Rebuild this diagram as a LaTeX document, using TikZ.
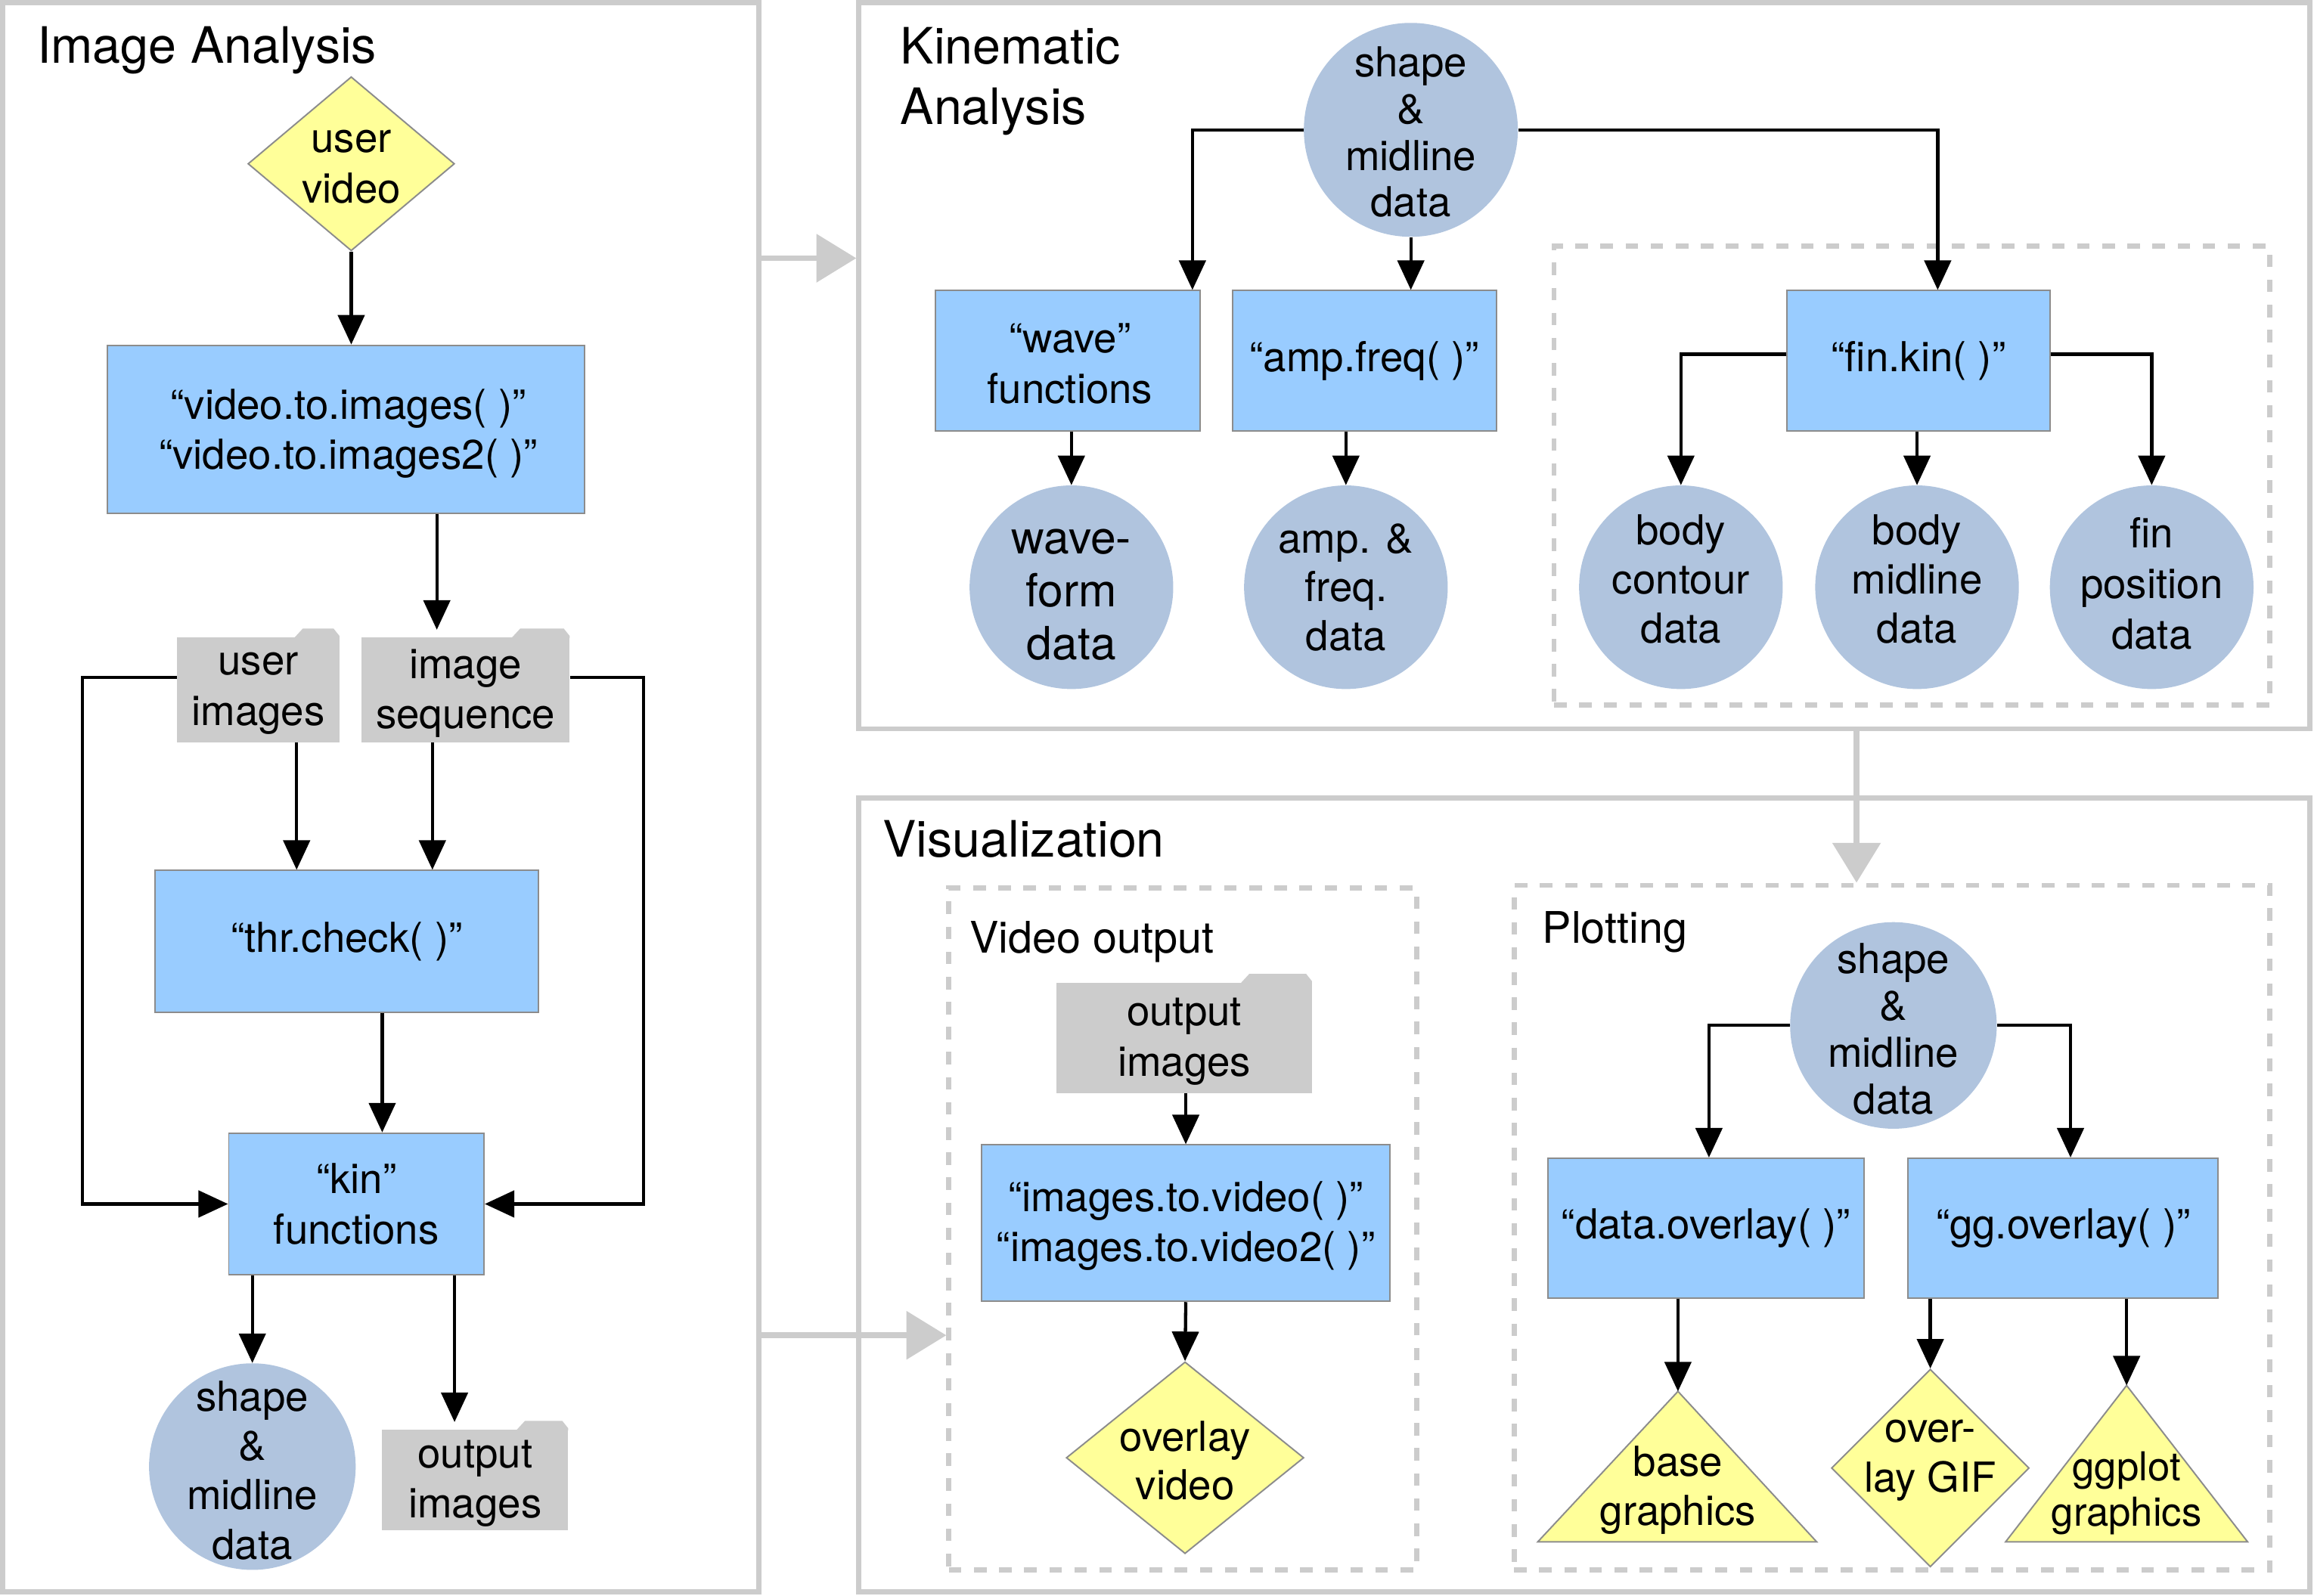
\documentclass[tikz,border=0pt]{standalone}
\usepackage{fontspec}
\setmainfont{TeX Gyre Heros}
\usetikzlibrary{arrows.meta,shapes.geometric,calc}
\definecolor{boxblue}{HTML}{99CCFF}
\definecolor{circblue}{HTML}{B0C4DE}
\definecolor{yelfill}{HTML}{FFFF99}
\definecolor{foldgray}{HTML}{CCCCCC}
\definecolor{panelgray}{HTML}{CCCCCC}
\definecolor{edgegray}{HTML}{8C8C8C}
\newcommand\fsz[2]{\fontsize{#1}{#2}\selectfont}
\newcommand\folderbox[6]{%
  \node[folderbody, minimum width={#4-#2}, minimum height={#5-#3}] (#1) at ({(#2+#4)/2},{(#3+#5)/2}) {};
  \fill[foldgray] ({#4-0.28*(#4-#2)},#3+0.5) -- ({#4-0.28*(#4-#2)+6},#3-6) -- (#4-4,#3-6) -- (#4,#3-1) -- (#4,#3+0.5) -- cycle;
  \node[lbl, yshift=-2.5pt] (#1t) at (#1) {#6};
}
\tikzset{
  every node/.style={font=\fsz{28}{34}},
  proc/.style={rectangle, fill=boxblue, draw=edgegray, line width=1pt, align=center, inner sep=0},
  datac/.style={circle, fill=circblue, inner sep=0},
  dia/.style={diamond, fill=yelfill, draw=edgegray, line width=1pt, inner sep=0},
  folderbody/.style={rectangle, fill=foldgray, inner sep=0, align=center},
  lbl/.style={align=center, inner sep=0},
  panelbox/.style={rectangle, draw=panelgray, line width=3.5pt, inner sep=0},
  dashbox/.style={rectangle, draw=panelgray, line width=3.5pt, dash pattern=on 8.5pt off 8.5pt, inner sep=0},
  arr/.style={draw=black, line width=2.2pt, -{Triangle[length=20pt,width=18pt]}},
  garr/.style={draw=panelgray, line width=4pt, -{Triangle[length=27pt,width=32pt]}},
  ttl/.style={font=\fsz{34}{41}, inner sep=0, align=left},
  subttl/.style={font=\fsz{29.5}{35}, anchor=base west, inner sep=0},
  tri/.style={fill=yelfill, draw=edgegray, line width=1pt},
}
\begin{document}
\begin{tikzpicture}[x=1pt,y=-1pt]
\useasboundingbox (0,0) rectangle (1568,1081.7);

% panels
\node[panelbox, minimum width=512, minimum height=1077] (ia) at (258,540.5) {};
\node[panelbox, minimum width=983, minimum height=492] (ka) at (1073.5,248) {};
\node[panelbox, minimum width=983, minimum height=538] (vz) at (1073.5,810) {};
\node[dashbox, minimum width=485, minimum height=311] (fk) at (1295.5,322.5) {};
\node[dashbox, minimum width=317, minimum height=462] (vo) at (801.5,833) {};
\node[dashbox, minimum width=512, minimum height=464] (pl) at (1282,832) {};

% titles
\node[ttl, anchor=base west] (t1) at (25,43) {Image Analysis};
\node[ttl, anchor=north west] (t2) at (610,18.5) {Kinematic\\Analysis};
\node[ttl, anchor=base west] (t3) at (598,581) {Visualization};
\node[subttl] (t4) at (657,646) {Video output};
\node[subttl] (t5) at (1045,639) {Plotting};

% gray arrows between panels
\draw[garr] (ia.east |- 0,175) -- (ka.west |- 0,175);
\draw[garr] (ia.east |- 0,905) -- (vo.west |- 0,905);
\draw[garr] (ka.south -| 1258,0) -- (pl.north -| 1258,0);

% ---------- Image Analysis ----------
\node[dia, minimum width=140, minimum height=118] (uv) at (238,111) {};
\node[lbl] (uvt) at (238,113) {user\\video};
\node[proc, minimum width=323, minimum height=114] (v2i) at (234.5,291) {};
\node[lbl] (v2it) at (236,294) {“video.to.images( )”\\“video.to.images2( )”};
\folderbox{ui}{120}{432}{230}{503}{user\\images}
\folderbox{is}{245}{432}{386}{503}{image\\sequence}
\node[proc, minimum width=260, minimum height=96] (thr) at (235,638) {“thr.check( )”};
\node[proc, minimum width=173, minimum height=96] (kin) at (241.5,816) {“kin”\\functions};
\node[datac, minimum size=140] (smd1) at (171,994) {};
\node[lbl, font=\fsz{28}{33.5}] (smd1t) at (171,996.5) {shape\\\&\\midline\\data};
\folderbox{oi1}{259}{969}{385}{1037}{output\\images}

\draw[arr] (uv.south) -- (uv.south |- v2i.north);
\draw[arr] (v2i.south -| 296,0) -- ($(is.north -| 296,0)+(0,-5)$);
\draw[arr] (ui.south -| 201,0) -- (thr.north -| 201,0);
\draw[arr] (is.south -| 293,0) -- (thr.north -| 293,0);
\draw[arr] (thr.south -| 259,0) -- (kin.north -| 259,0);
\draw[arr] (ui.west |- 0,459) -- ++(-64,0) |- (kin.west);
\draw[arr] (is.east |- 0,459) -- ++(50,0) |- (kin.east);
\draw[arr] (kin.south -| smd1.north) -- (smd1.north);
\draw[arr] (kin.south -| 308,0) -- ($(oi1.north -| 308,0)+(0,-5)$);

% ---------- Kinematic Analysis ----------
\node[datac, minimum size=145] (smd2) at (956,88) {};
\node[lbl, font=\fsz{28}{31.7}] (smd2t) at (956,89.5) {shape\\\&\\midline\\data};
\node[proc, minimum width=179, minimum height=95] (wave) at (723.5,244.5) {};
\node[lbl] (wavet) at (725,246.5) {“wave”\\functions};
\node[proc, minimum width=179, minimum height=95] (amp) at (924.5,244.5) {“amp.freq( )”};
\node[proc, minimum width=178, minimum height=95] (fin) at (1300,244.5) {“fin.kin( )”};
\node[datac, minimum size=138] (wd) at (726,398) {};
\node[lbl, font=\fsz{31}{36}] (wdt) at (726,403) {wave-\\form\\data};
\node[datac, minimum size=138] (afd) at (912,398) {};
\node[lbl, font=\fsz{28}{33}] (afdt) at (912,398) {amp. \&\\freq.\\data};
\node[datac, minimum size=138] (bcd) at (1139,398) {};
\node[lbl, font=\fsz{28}{33.5}] (bcdt) at (1139,392.5) {body\\contour\\data};
\node[datac, minimum size=138] (bmd) at (1299,398) {};
\node[lbl, font=\fsz{28}{33.5}] (bmdt) at (1299,392.5) {body\\midline\\data};
\node[datac, minimum size=138] (fpd) at (1458,398) {};
\node[lbl, font=\fsz{28}{34.5}] (fpdt) at (1458,395.5) {fin\\position\\data};

\draw[arr] (smd2.west) -| (wave.north -| 808,0);
\draw[arr] (smd2.south) -- (smd2.south |- amp.north);
\draw[arr] (smd2.east) -| (fin.north -| 1313,0);
\draw[arr] (wave.south -| wd.north) -- (wd.north);
\draw[arr] (amp.south -| afd.north) -- (afd.north);
\draw[arr] (fin.west |- 0,240) -| (bcd.north);
\draw[arr] (fin.south -| bmd.north) -- (bmd.north);
\draw[arr] (fin.east |- 0,240) -| (fpd.north);

% ---------- Visualization ----------
\folderbox{oi2}{716}{666}{889}{741}{output\\images}
\node[proc, minimum width=277, minimum height=106] (i2v) at (803.5,829) {};
\node[lbl] (i2vt) at (803.5,831) {“images.to.video( )”\\“images.to.video2( )”};
\node[dia, minimum width=161, minimum height=130] (ov) at (803,988) {};
\node[lbl, font=\fsz{28}{33}] (ovt) at (803,990) {overlay\\video};

\node[datac, minimum size=140] (smd3) at (1283,695) {};
\node[lbl, font=\fsz{28}{31.7}] (smd3t) at (1283,697.5) {shape\\\&\\midline\\data};
\node[proc, minimum width=214, minimum height=95] (dov) at (1156,832.5) {“data.overlay( )”};
\node[proc, minimum width=210, minimum height=95] (ggo) at (1398,832.5) {“gg.overlay( )”};
\draw[tri] (1137,943) coordinate (bgtop) -- (1231,1045) -- (1042,1045) -- cycle;
\node[lbl, font=\fsz{28}{33}] (bgt) at (1137,1010) {base\\graphics};
\node[dia, minimum width=134, minimum height=134] (gif) at (1308,995) {};
\node[lbl, font=\fsz{28}{34}] (gift) at (1308,990) {over-\\lay GIF};
\draw[tri] (1441,939) coordinate (gggtop) -- (1523,1045) -- (1359,1045) -- cycle;
\node[lbl, font=\fsz{27}{31}] (gggt) at (1441,1012) {ggplot\\graphics};

\draw[arr] (oi2.south -| i2v.north) -- (i2v.north);
\draw[arr] (i2v.south) -- (ov.north);
\draw[arr] (smd3.west) -| (dov.north -| 1158,0);
\draw[arr] (smd3.east) -| (ggo.north -| 1403,0);
\draw[arr] (dov.south -| bgtop) -- (bgtop);
\draw[arr] (ggo.south -| gif.north) -- (gif.north);
\draw[arr] (ggo.south -| gggtop) -- (gggtop);
\end{tikzpicture}
\end{document}
